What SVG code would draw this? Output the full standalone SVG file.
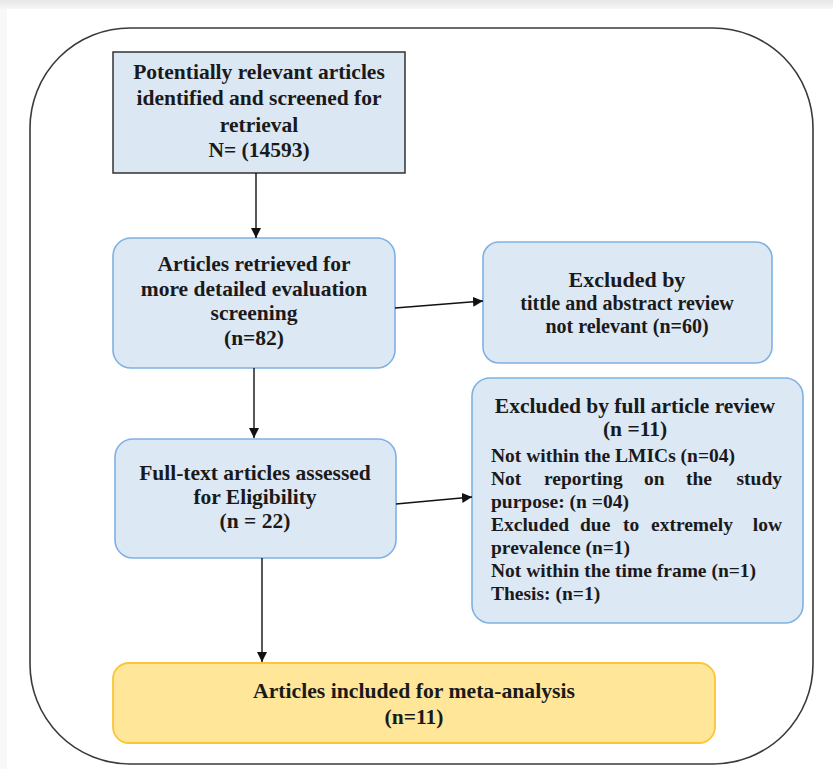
<svg xmlns="http://www.w3.org/2000/svg" width="833" height="769" viewBox="0 0 833 769">
<defs>
<marker id="ah" viewBox="0 0 10 10" refX="10" refY="5" markerWidth="10" markerHeight="10" markerUnits="userSpaceOnUse" orient="auto">
<path d="M0,0 L10,5 L0,10 z" fill="#111"/>
</marker>
<linearGradient id="topband" x1="0" y1="0" x2="0" y2="1">
<stop offset="0" stop-color="#e6e6e6"/><stop offset="1" stop-color="#f6f6f6"/>
</linearGradient>
</defs>
<style>
.t{font-family:"Liberation Serif","Times New Roman",serif;font-weight:bold;fill:#1a1a1a;font-size:21.5px}
.s{font-size:19.5px}
.c{text-anchor:middle}
.e{text-anchor:end}
.blue{fill:#dde8f5;stroke:#7fb1e2;stroke-width:1.6}
.conn{stroke:#111;stroke-width:1.4;fill:none;marker-end:url(#ah)}
</style>
<rect x="0" y="0" width="833" height="769" fill="#ffffff"/>
<rect x="0" y="0" width="833" height="9" fill="url(#topband)"/>
<rect x="0" y="9" width="7" height="760" fill="#f8f8f8"/>
<rect id="frame" x="30" y="28" width="783" height="736" rx="100" ry="100" fill="none" stroke="#3a3a3a" stroke-width="1.6"/>
<g id="n1">
<rect x="113" y="52" width="292" height="121" fill="#dce7f4" stroke="#333" stroke-width="1.5"/>
<text class="t c" x="259" y="79">Potentially relevant articles</text>
<text class="t c" x="259" y="105">identified and screened for</text>
<text class="t c" x="259" y="132">retrieval</text>
<text class="t c" x="259" y="157">N= (14593)</text>
</g>
<g id="n2">
<rect class="blue" x="113" y="238" width="282" height="130" rx="18"/>
<text class="t c" x="254" y="271">Articles retrieved for</text>
<text class="t c" x="254" y="296">more detailed evaluation</text>
<text class="t c" x="254" y="320">screening</text>
<text class="t c" x="254" y="345">(n=82)</text>
</g>
<g id="n3">
<rect class="blue" x="483" y="242" width="289" height="121" rx="16"/>
<text class="t c" x="627" y="287" style="font-size:22px">Excluded by</text>
<text class="t c" x="627" y="310" style="font-size:20px">tittle and abstract review</text>
<text class="t c" x="627" y="333" style="font-size:20px">not relevant (n=60)</text>
</g>
<g id="n4">
<rect class="blue" x="115" y="439" width="281" height="119" rx="18"/>
<text class="t c" x="255" y="480">Full-text articles assessed</text>
<text class="t c" x="255" y="504">for Eligibility</text>
<text class="t c" x="255" y="528">(n = 22)</text>
</g>
<g id="n5">
<rect class="blue" x="472" y="378" width="331" height="245" rx="18"/>
<text class="t c" x="635" y="413">Excluded by full article review</text>
<text class="t c" x="635" y="436">(n =11)</text>
<text class="t s" x="491" y="462">Not within the LMICs (n=04)</text>
<text class="t s" y="485"><tspan x="491">Not</tspan><tspan x="544">reporting</tspan><tspan x="644">on</tspan><tspan x="686">the</tspan></text>
<text class="t s e" x="782" y="485">study</text>
<text class="t s" x="491" y="508">purpose: (n =04)</text>
<text class="t s" y="531"><tspan x="491">Excluded</tspan><tspan x="580">due</tspan><tspan x="623">to</tspan><tspan x="651">extremely</tspan></text>
<text class="t s e" x="782" y="531">low</text>
<text class="t s" x="491" y="554">prevalence (n=1)</text>
<text class="t s" x="491" y="577">Not within the time frame (n=1)</text>
<text class="t s" x="491" y="600">Thesis: (n=1)</text>
</g>
<g id="n6">
<rect x="113" y="663" width="602" height="80" rx="16" fill="#ffe699" stroke="#fbc53a" stroke-width="1.8"/>
<text class="t c" x="414" y="698" textLength="322" lengthAdjust="spacingAndGlyphs">Articles included for meta-analysis</text>
<text class="t c" x="414" y="724">(n=11)</text>
</g>
<g id="connectors">
<line class="conn" x1="256" y1="173" x2="256" y2="238"/>
<line class="conn" x1="254" y1="368" x2="254" y2="438"/>
<line class="conn" x1="262" y1="558" x2="262" y2="662"/>
<line class="conn" x1="395" y1="308" x2="483" y2="301"/>
<line class="conn" x1="396" y1="504" x2="472" y2="497"/>
</g>
</svg>
